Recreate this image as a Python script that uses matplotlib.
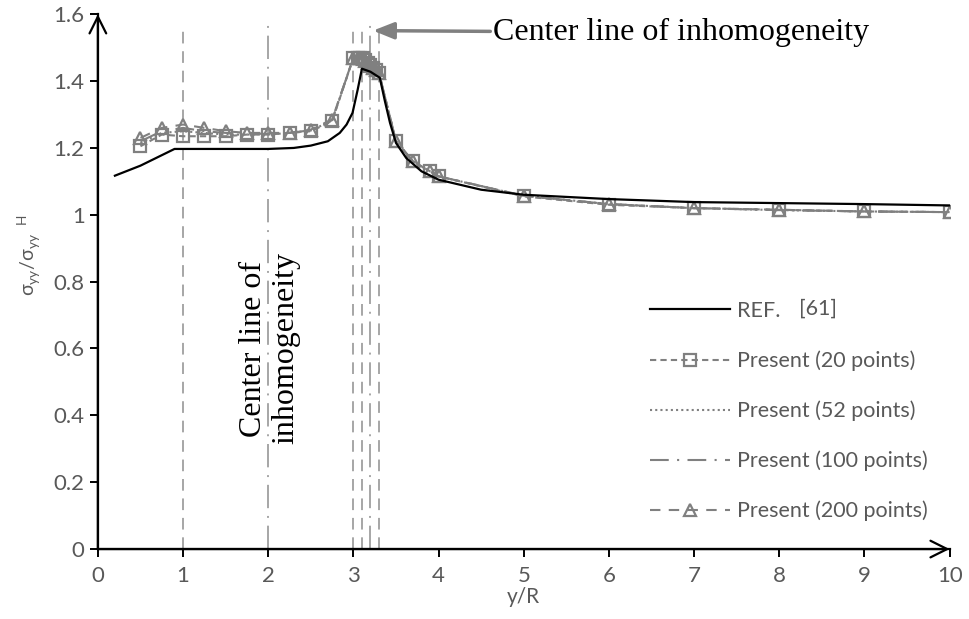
import matplotlib
matplotlib.use("Agg")
import matplotlib.pyplot as plt

# REF. [61]
REF_X = [0.2, 0.5, 0.9, 1.5, 2.0, 2.3, 2.5, 2.7, 2.84, 2.92, 2.99, 3.05, 3.1, 3.2, 3.31,
         3.37, 3.43, 3.5, 3.62, 3.8, 4.0, 4.5, 5.0, 6.0, 7.0, 8.0, 9.0, 10.0]
REF_Y = [1.117, 1.147, 1.197, 1.197, 1.197, 1.2, 1.207, 1.22, 1.245, 1.27, 1.305, 1.374,
         1.437, 1.428, 1.41, 1.34, 1.275, 1.215, 1.17, 1.13, 1.105, 1.075, 1.06, 1.047,
         1.038, 1.035, 1.032, 1.028]

# present method
P_X = [0.5, 0.75, 1.0, 1.25, 1.5, 1.75, 2.0, 2.25, 2.5, 2.75, 3.0, 3.05, 3.08, 3.11, 3.14,
       3.17, 3.2, 3.23, 3.26, 3.3, 3.5, 3.7, 3.9, 4.0, 5, 6, 7, 8, 9, 10]
P20_Y = [1.205, 1.24, 1.235, 1.235, 1.235, 1.24, 1.24, 1.245, 1.25, 1.28, 1.47, 1.47, 1.47,
         1.468, 1.462, 1.455, 1.448, 1.44, 1.433, 1.425, 1.22, 1.16, 1.13, 1.115, 1.055,
         1.03, 1.02, 1.015, 1.01, 1.008]
P52_Y = [1.215, 1.245, 1.25, 1.245, 1.24, 1.24, 1.24, 1.245, 1.252, 1.282, 1.47, 1.47, 1.47,
         1.466, 1.46, 1.453, 1.446, 1.439, 1.432, 1.424, 1.22, 1.16, 1.13, 1.115, 1.057,
         1.032, 1.02, 1.014, 1.01, 1.008]
P100_Y = [1.22, 1.25, 1.26, 1.25, 1.245, 1.243, 1.242, 1.245, 1.253, 1.283, 1.47, 1.47, 1.47,
          1.466, 1.46, 1.453, 1.446, 1.439, 1.432, 1.424, 1.22, 1.16, 1.13, 1.115, 1.057,
          1.032, 1.02, 1.014, 1.01, 1.008]
P200_Y = [1.23, 1.26, 1.27, 1.26, 1.25, 1.245, 1.245, 1.245, 1.255, 1.285, 1.47, 1.47, 1.47,
          1.466, 1.46, 1.453, 1.446, 1.439, 1.432, 1.424, 1.22, 1.16, 1.13, 1.115, 1.057,
          1.032, 1.02, 1.015, 1.01, 1.008]

# lignes verticales (centres d'inhomogénéité)
VLINES_X = [1.0, 2.0, 3.0, 3.1, 3.2, 3.3]
VLINES_STYLE = [(0, (6, 4)), (0, (12, 4, 1, 4)), (0, (6, 4)), (0, (6, 4)),
                (0, (12, 4, 1, 4)), (0, (6, 4))]

GRIS = "#808080"
TXT = "#595959"
plt.rcParams["font.family"] = ["Lato", "DejaVu Sans"]

fig = plt.figure(figsize=(9.69, 6.19), dpi=100)
ax = fig.add_axes([0.101, 0.113, 0.879, 0.864])

for x, ls in zip(VLINES_X, VLINES_STYLE):
    ax.plot([x, x], [0, 1.57], color="#A6A6A6", lw=1.4, ls=ls, zorder=1)

ax.plot(REF_X, REF_Y, color="black", lw=1.6, label="REF.", zorder=4)
ax.plot(P_X, P20_Y, color=GRIS, lw=1.5, ls=(0, (3, 2)), marker="s", ms=8,
        mfc="none", mew=1.6, label="Present (20 points)", zorder=3)
ax.plot(P_X, P52_Y, color=GRIS, lw=1.5, ls=(0, (1, 1.5)),
        label="Present (52 points)", zorder=3)
ax.plot(P_X, P100_Y, color=GRIS, lw=1.5, ls=(0, (9, 4, 1, 4)),
        label="Present (100 points)", zorder=3)
ax.plot(P_X, P200_Y, color=GRIS, lw=1.5, ls=(0, (5, 4)), marker="^", ms=8,
        mfc="none", mew=1.6, label="Present (200 points)", zorder=3)

ax.set_xlim(0, 10)
ax.set_ylim(0, 1.6)
ax.set_xticks(range(0, 11))
ax.set_yticks([0, 0.2, 0.4, 0.6, 0.8, 1.0, 1.2, 1.4, 1.6])
ax.set_yticklabels(["0", "0.2", "0.4", "0.6", "0.8", "1", "1.2", "1.4", "1.6"])
ax.tick_params(colors="black", labelcolor=TXT, labelsize=16, width=1.4, length=6,
               direction="out")
ax.tick_params(axis="x", pad=6)
for s in ["top", "right"]:
    ax.spines[s].set_visible(False)
for s in ["left", "bottom"]:
    ax.spines[s].set_linewidth(1.6)

# flèches des axes
ax.annotate("", xy=(0, 1.6), xytext=(0, 0), annotation_clip=False,
            arrowprops=dict(arrowstyle="->,head_length=1.2,head_width=0.6", lw=1.6,
                            color="black", shrinkA=0, shrinkB=0))
ax.annotate("", xy=(10, 0), xytext=(0, 0), annotation_clip=False,
            arrowprops=dict(arrowstyle="->,head_length=1.2,head_width=0.6", lw=1.6,
                            color="black", shrinkA=0, shrinkB=0))

ax.set_xlabel("y/R", color=TXT, fontsize=15, labelpad=1)
ax.set_ylabel(r"σ$_{\mathregular{yy}}$/σ$_{\mathregular{yy}}$$^{\mathregular{\ \ H}}$",
              color=TXT, fontsize=14)
ax.yaxis.set_label_coords(-0.064, 0.55)

leg = ax.legend(loc="upper left", bbox_to_anchor=(0.626, 0.50), frameon=False,
                fontsize=15.5, labelcolor=TXT, handlelength=3.7, handletextpad=0.33,
                labelspacing=1.37)
ax.text(8.23, 0.72, "[61]", color=TXT, fontsize=15.5, va="center")

# annotations
ax.annotate("Center line of inhomogeneity", xy=(3.23, 1.551), xytext=(4.64, 1.545),
            fontsize=23, family="Liberation Serif", va="center", ha="left",
            annotation_clip=False,
            arrowprops=dict(arrowstyle="-|>,head_length=0.55,head_width=0.22", lw=2.5,
                            color=GRIS, shrinkA=0, shrinkB=0))
ax.text(2.02, 0.6, "Center line of\ninhomogeneity", rotation=90, fontsize=23,
        family="Liberation Serif", ha="center", va="center", multialignment="center",
        linespacing=1.15)

fig.savefig("out.png", dpi=100)
